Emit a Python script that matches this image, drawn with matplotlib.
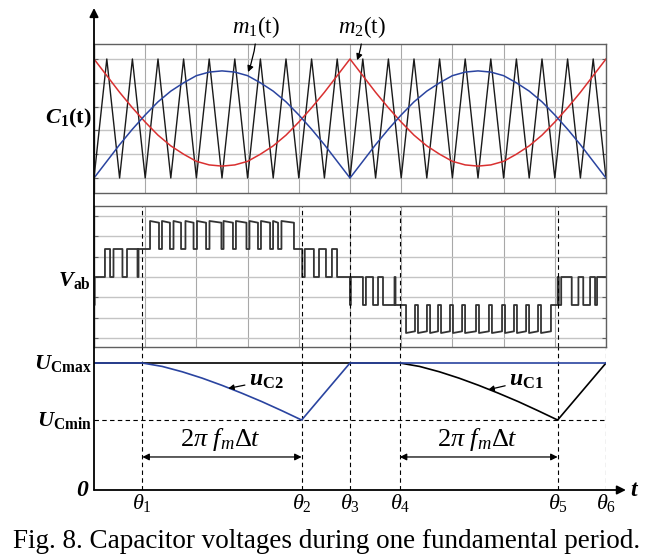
import numpy as np
import matplotlib.pyplot as plt

plt.rcParams['font.family'] = 'Liberation Serif'
plt.rcParams['mathtext.fontset'] = 'custom'
plt.rcParams['mathtext.rm'] = 'Liberation Serif'
plt.rcParams['mathtext.it'] = 'Liberation Serif:italic'
plt.rcParams['mathtext.bf'] = 'Liberation Serif:bold'
plt.rcParams['mathtext.bfit'] = 'Liberation Serif:italic:bold'

# angle axis in degrees, one fundamental period (0..360)
carrier_t = np.linspace(0, 360, 41)
carrier = [0, 1] * 20 + [0]

# modulating waves read at the carrier vertices
m1 = [0, .14, .28, .41, .53, .64, .73, .80, .86, .89, .90, .89, .86, .80, .73, .64, .53, .41, .28, .14,
      0, .14, .28, .41, .53, .64, .73, .80, .86, .89, .90, .89, .86, .80, .73, .64, .53, .41, .28, .14, 0]
m2 = [1, .86, .72, .59, .47, .36, .27, .20, .14, .11, .10, .11, .14, .20, .27, .36, .47, .59, .72, .86,
      1, .86, .72, .59, .47, .36, .27, .20, .14, .11, .10, .11, .14, .20, .27, .36, .47, .59, .72, .86, 1]

# Vab switching instants (deg) and the level held after each one
vab_t = [0, 0.5, 7.7, 11.3, 13.7, 20.0, 23.2, 30.6, 31.3,
         39.4, 45.7, 47.8, 53.4, 55.9, 61.2, 64.3, 70.0, 72.4, 78.8, 81.2, 89.6, 91.1, 97.7,
         99.8, 107.2, 109.3, 115.3, 117.4, 123.8, 125.9, 129.4, 131.8, 140.6,
         146.4, 148.2, 154.6, 158.2, 163.1, 167.3, 170.9,
         180.0, 180.6, 189.1, 191.2, 196.2, 199.7, 203.2, 211.3, 212.0,
         219.4, 225.7, 227.8, 234.1, 236.3, 241.9, 244.0, 250.3, 252.4, 258.8, 260.9, 268.6,
         270.7, 277.7, 279.8, 286.9, 289.0, 295.3, 297.4, 303.8, 305.9, 312.2, 314.3, 321.3,
         326.0, 326.8, 328.5, 335.9, 340.6, 344.0, 348.8, 352.3, 353.7]
vab_lv = [-1, 0, 1, 0, 1, 0, 1, 0, 1,
          2, 1, 2, 1, 2, 1, 2, 1, 2, 1, 2, 1, 2, 1,
          2, 1, 2, 1, 2, 1, 2, 1, 2, 1,
          0, 1, 0, 1, 0, 1, 0,
          -1, 0, -1, 0, -1, 0, -1, 0, -1,
          -2, -1, -2, -1, -2, -1, -2, -1, -2, -1, -2, -1,
          -2, -1, -2, -1, -2, -1, -2, -1, -2, -1, -2, -1,
          0, -1, 0, -1, 0, -1, 0, -1, 0]

# capacitor voltages
theta = [34, 146, 180, 215, 326, 360]
theta_lbl = [r'$\theta_1$', r'$\theta_2$', r'$\theta_3$', r'$\theta_4$', r'$\theta_5$', r'$\theta_6$']
UCmax, UCmin = 1.0, 0.551
uc2_t = [0, 34, 48, 62, 76, 90, 104, 118, 132, 146, 180, 360]
uc2 = [1, 1, .973, .931, .881, .824, .762, .696, .625, .551, 1, 1]
uc1_t = [0, 215, 228.9, 242.8, 256.6, 270.5, 284.4, 298.3, 312.1, 326, 360]
uc1 = [1, 1, .973, .931, .881, .824, .762, .696, .625, .551, 1]

W, H = 657, 557
def box(x0, y0, x1, y1):
    return [x0 / W, 1 - y1 / H, (x1 - x0) / W, (y1 - y0) / H]

fig = plt.figure(figsize=(W / 100, H / 100), dpi=100)
ax1 = fig.add_axes(box(94, 44, 606, 193))
ax2 = fig.add_axes(box(94, 206, 606, 347))
ax3 = fig.add_axes(box(94, 347, 606, 490))

spine_c = '#606060'
for ax in (ax1, ax2):
    ax.set_xlim(0, 360)
    ax.set_xticks(np.arange(0, 361, 36))
    ax.tick_params(direction='in', length=3, left=True, right=True, top=False, bottom=False,
                   labelleft=False, labelbottom=False, color=spine_c)
    for s in ax.spines.values():
        s.set_color(spine_c)
        s.set_linewidth(1.0)
    ax.grid(axis='y', color='#c4c4c4', lw=1.0)
    ax.grid(axis='x', color='#a8a8a8', lw=0.8)
    ax.set_axisbelow(True)

# top panel: carrier and modulating waves
ax1.set_ylim(-0.126, 1.126)
ax1.set_yticks(np.arange(0, 1.01, 0.2))
ax1.plot(carrier_t, carrier, color='#1a1a1a', lw=1.0)
ax1.plot(carrier_t, m2, color='#d93030', lw=1.1)
ax1.plot(carrier_t, m1, color='#2a44a0', lw=1.1)
lbl_arrow = dict(arrowstyle='-|>', color='black', lw=0.9, mutation_scale=9,
                 shrinkA=1, shrinkB=0, connectionstyle='arc3,rad=-0.1')
ax1.annotate(r'$m_{\mathrm{1}}\mathrm{(t)}$', xy=(108.3, 0.89), xytext=(114, 1.27),
             ha='center', va='center', fontsize=16.5, annotation_clip=False, arrowprops=lbl_arrow)
ax1.annotate(r'$m_{\mathrm{2}}\mathrm{(t)}$', xy=(185, 0.99), xytext=(188.5, 1.27),
             ha='center', va='center', fontsize=16.5, annotation_clip=False, arrowprops=lbl_arrow)
ax1.text(-2, 0.5, r'$\mathbfit{C}_{\mathbf{1}}\mathbf{(t)}$', ha='right', va='center', fontsize=16)

# middle panel: Vab
ax2.set_ylim(-2.5, 2.536)
ax2.set_yticks(np.arange(-3, 4) * 0.725)
xs, ys = [], []
for i, (t0, lv) in enumerate(zip(vab_t, vab_lv)):
    t1 = vab_t[i + 1] if i + 1 < len(vab_t) else 360
    end = lv - np.sign(lv) * 0.06 if abs(lv) == 2 else lv
    xs += [t0, t1]
    ys += [lv, end]
ax2.plot(xs, ys, color='#333333', lw=1.3)
for th in theta[:5]:
    ax2.axvline(th, color='black', lw=0.8, ls=(0, (4, 3)))
ax2.text(-2, -0.12, r'$\mathbfit{V}_{\mathbf{ab}}$', ha='right', va='center', fontsize=16)

# bottom panel: capacitor voltages
ax3.set_xlim(0, 360)
ax3.set_ylim(0, 1.126)
ax3.axis('off')
for th in theta:
    ax3.axvline(th, color='black', lw=0.8, ls=(0, (4, 3)))
ax3.axhline(UCmin, color='black', lw=0.8, ls=(0, (4, 3)))
ax3.plot(uc1_t, uc1, color='black', lw=1.2)
ax3.plot(uc2_t, uc2, color='#2a44a0', lw=1.2)

arrow_kw = dict(arrowstyle='-|>', color='black', lw=1.3, mutation_scale=13, shrinkA=0, shrinkB=0)
ax3.annotate('', xy=(0, 1 - 8 / H), xycoords=('data', 'figure fraction'),
             xytext=(0, 0), textcoords='data', arrowprops=arrow_kw, annotation_clip=False)
ax3.annotate('', xy=(374, 0), xytext=(0, 0), arrowprops=arrow_kw, annotation_clip=False)

for a, b in [(theta[0], theta[1]), (theta[3], theta[4])]:
    ax3.annotate('', xy=(b, 0.26), xytext=(a, 0.26),
                 arrowprops=dict(arrowstyle='<|-|>', color='black', lw=0.9, mutation_scale=10,
                                 shrinkA=0, shrinkB=0))
    ax3.text((a + b) / 2 - 1, 0.40, r'$2\pi\ f_m\Delta t$', ha='center', va='center', fontsize=19)

ax3.annotate(r'$\mathbfit{u}_{\mathbf{C2}}$', xy=(94.4, 0.80), xytext=(109, 0.86),
             ha='left', va='center', fontsize=17,
             arrowprops=dict(arrowstyle='-|>', color='black', lw=0.9, mutation_scale=8,
                             shrinkA=1, shrinkB=0))
ax3.annotate(r'$\mathbfit{u}_{\mathbf{C1}}$', xy=(277.3, 0.79), xytext=(292, 0.86),
             ha='left', va='center', fontsize=17,
             arrowprops=dict(arrowstyle='-|>', color='black', lw=0.9, mutation_scale=8,
                             shrinkA=1, shrinkB=0))

ax3.text(-1.5, UCmax, r'$\mathbfit{U}_{\mathbf{Cmax}}$', ha='right', va='center', fontsize=16)
ax3.text(-1.5, UCmin, r'$\mathbfit{U}_{\mathbf{Cmin}}$', ha='right', va='center', fontsize=16)
ax3.text(-3, 0, r'$\mathbfit{0}$', ha='right', va='center', fontsize=17)
ax3.text(377, 0, r'$\mathbfit{t}$', ha='left', va='center', fontsize=17)
for th, lbl in zip(theta, theta_lbl):
    ax3.text(th, -0.105, lbl, ha='center', va='center', fontsize=16)

fig.text(0.497, 1 - 541 / H, 'Fig. 8. Capacitor voltages during one fundamental period.',
         ha='center', va='center', fontsize=19.5)

fig.savefig('out.png', dpi=100)
